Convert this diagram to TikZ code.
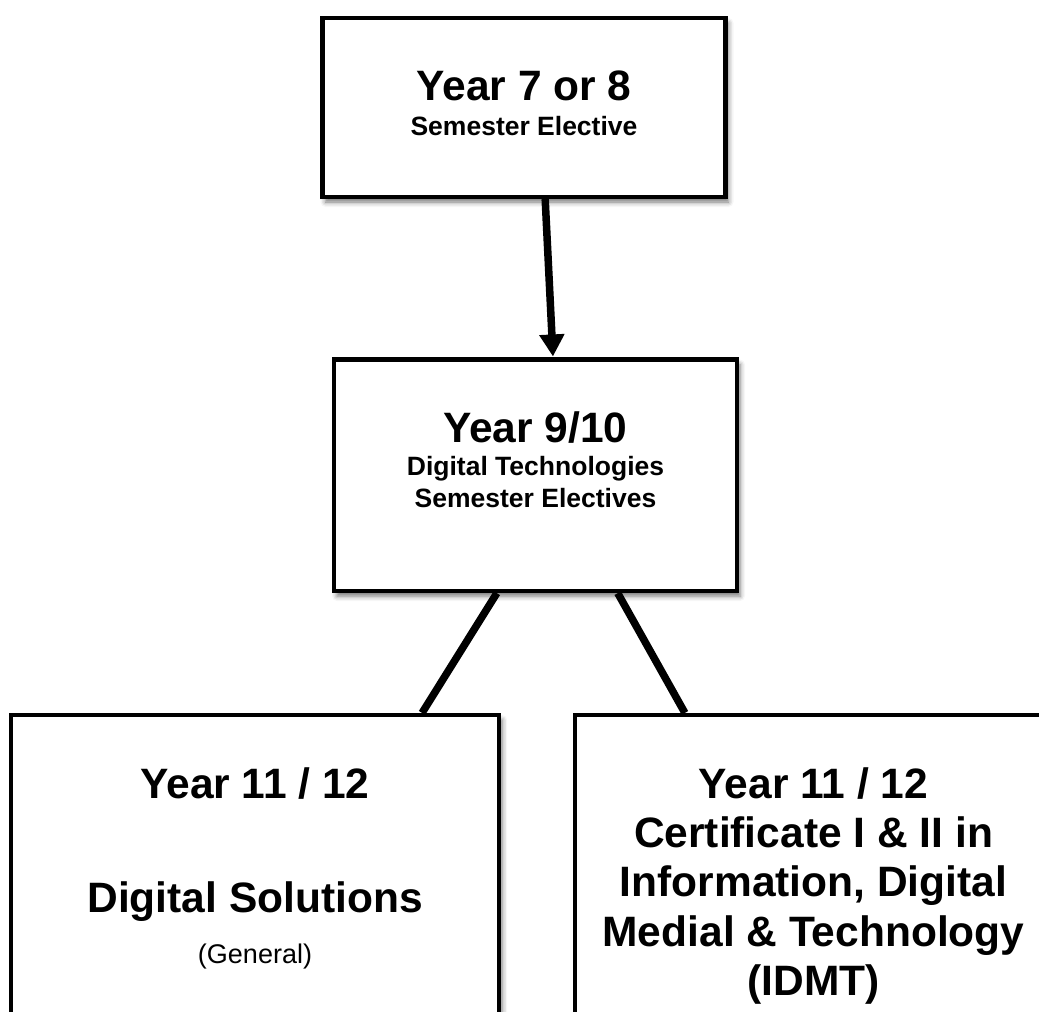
\documentclass[tikz,border=0pt]{standalone}
\usepackage{fontspec}
\setmainfont{Liberation Sans}
\usetikzlibrary{arrows.meta,calc,shadows.blur}
\begin{document}
\begin{tikzpicture}[x=1pt,y=-1pt,
  box/.style={draw=black, line width=4.2pt, fill=white, rectangle, inner sep=0pt,
    blur shadow={shadow xshift=3pt, shadow yshift=-5pt, shadow blur radius=5pt, shadow opacity=55}},
  big/.style={font=\bfseries\fontsize{42.5}{48}\selectfont, anchor=base, inner sep=0pt},
  small/.style={font=\bfseries\fontsize{26.5}{30}\selectfont, anchor=base, inner sep=0pt},
  plain/.style={font=\fontsize{27}{30}\selectfont, anchor=base, inner sep=0pt},
  conn/.style={line width=7.5pt},
]
\useasboundingbox (0,0) rectangle (1039,1012);
\clip (0,0) rectangle (1039,1012);

% boxes
\node[box, minimum width=403pt, minimum height=179pt] (T) at (524,107.5) {};
\node[box, minimum width=403pt, minimum height=231.5pt] (M) at (535.5,475.3) {};
\node[box, minimum width=488pt, minimum height=385pt] (L) at (255.2,907.5) {};
\node[box, minimum width=525pt, minimum height=385pt] (R) at (837.5,907.5) {};

% texts
\node[big] (t1) at (524,100) {Year 7 or 8};
\node[small] (t2) at (524,135) {Semester Elective};

\node[big] (m1) at (535.5,442) {Year 9/10};
\node[small] (m2) at (535.5,475) {Digital Technologies};
\node[small] (m3) at (535.5,507) {Semester Electives};

\node[big] (l1) at (255,798) {Year 11 / 12};
\node[big] (l2) at (255,912) {Digital Solutions};
\node[plain] (l3) at (255,963) {(General)};

\node[big] (r1) at (813.5,798) {Year 11 / 12};
\node[big] (r2) at (813.5,847) {Certificate I \& II in};
\node[big] (r3) at (813.5,896) {Information, Digital};
\node[big] (r4) at (813.5,946) {Medial \& Technology};
\node[big] (r5) at (813.5,995) {(IDMT)};

% connectors
\draw[conn, -{Triangle[width=24pt,length=22pt]}, shorten >=1pt]
  ($(T.south west)!0.552!(T.south east)$) -- ($(M.north west)!0.543!(M.north east)$);
\draw[conn] ($(M.south west)!0.405!(M.south east)$) -- ($(L.north west)!0.839!(L.north east)$);
\draw[conn] ($(M.south west)!0.702!(M.south east)$) -- ($(R.north west)+(112,0)$);
\end{tikzpicture}
\end{document}
